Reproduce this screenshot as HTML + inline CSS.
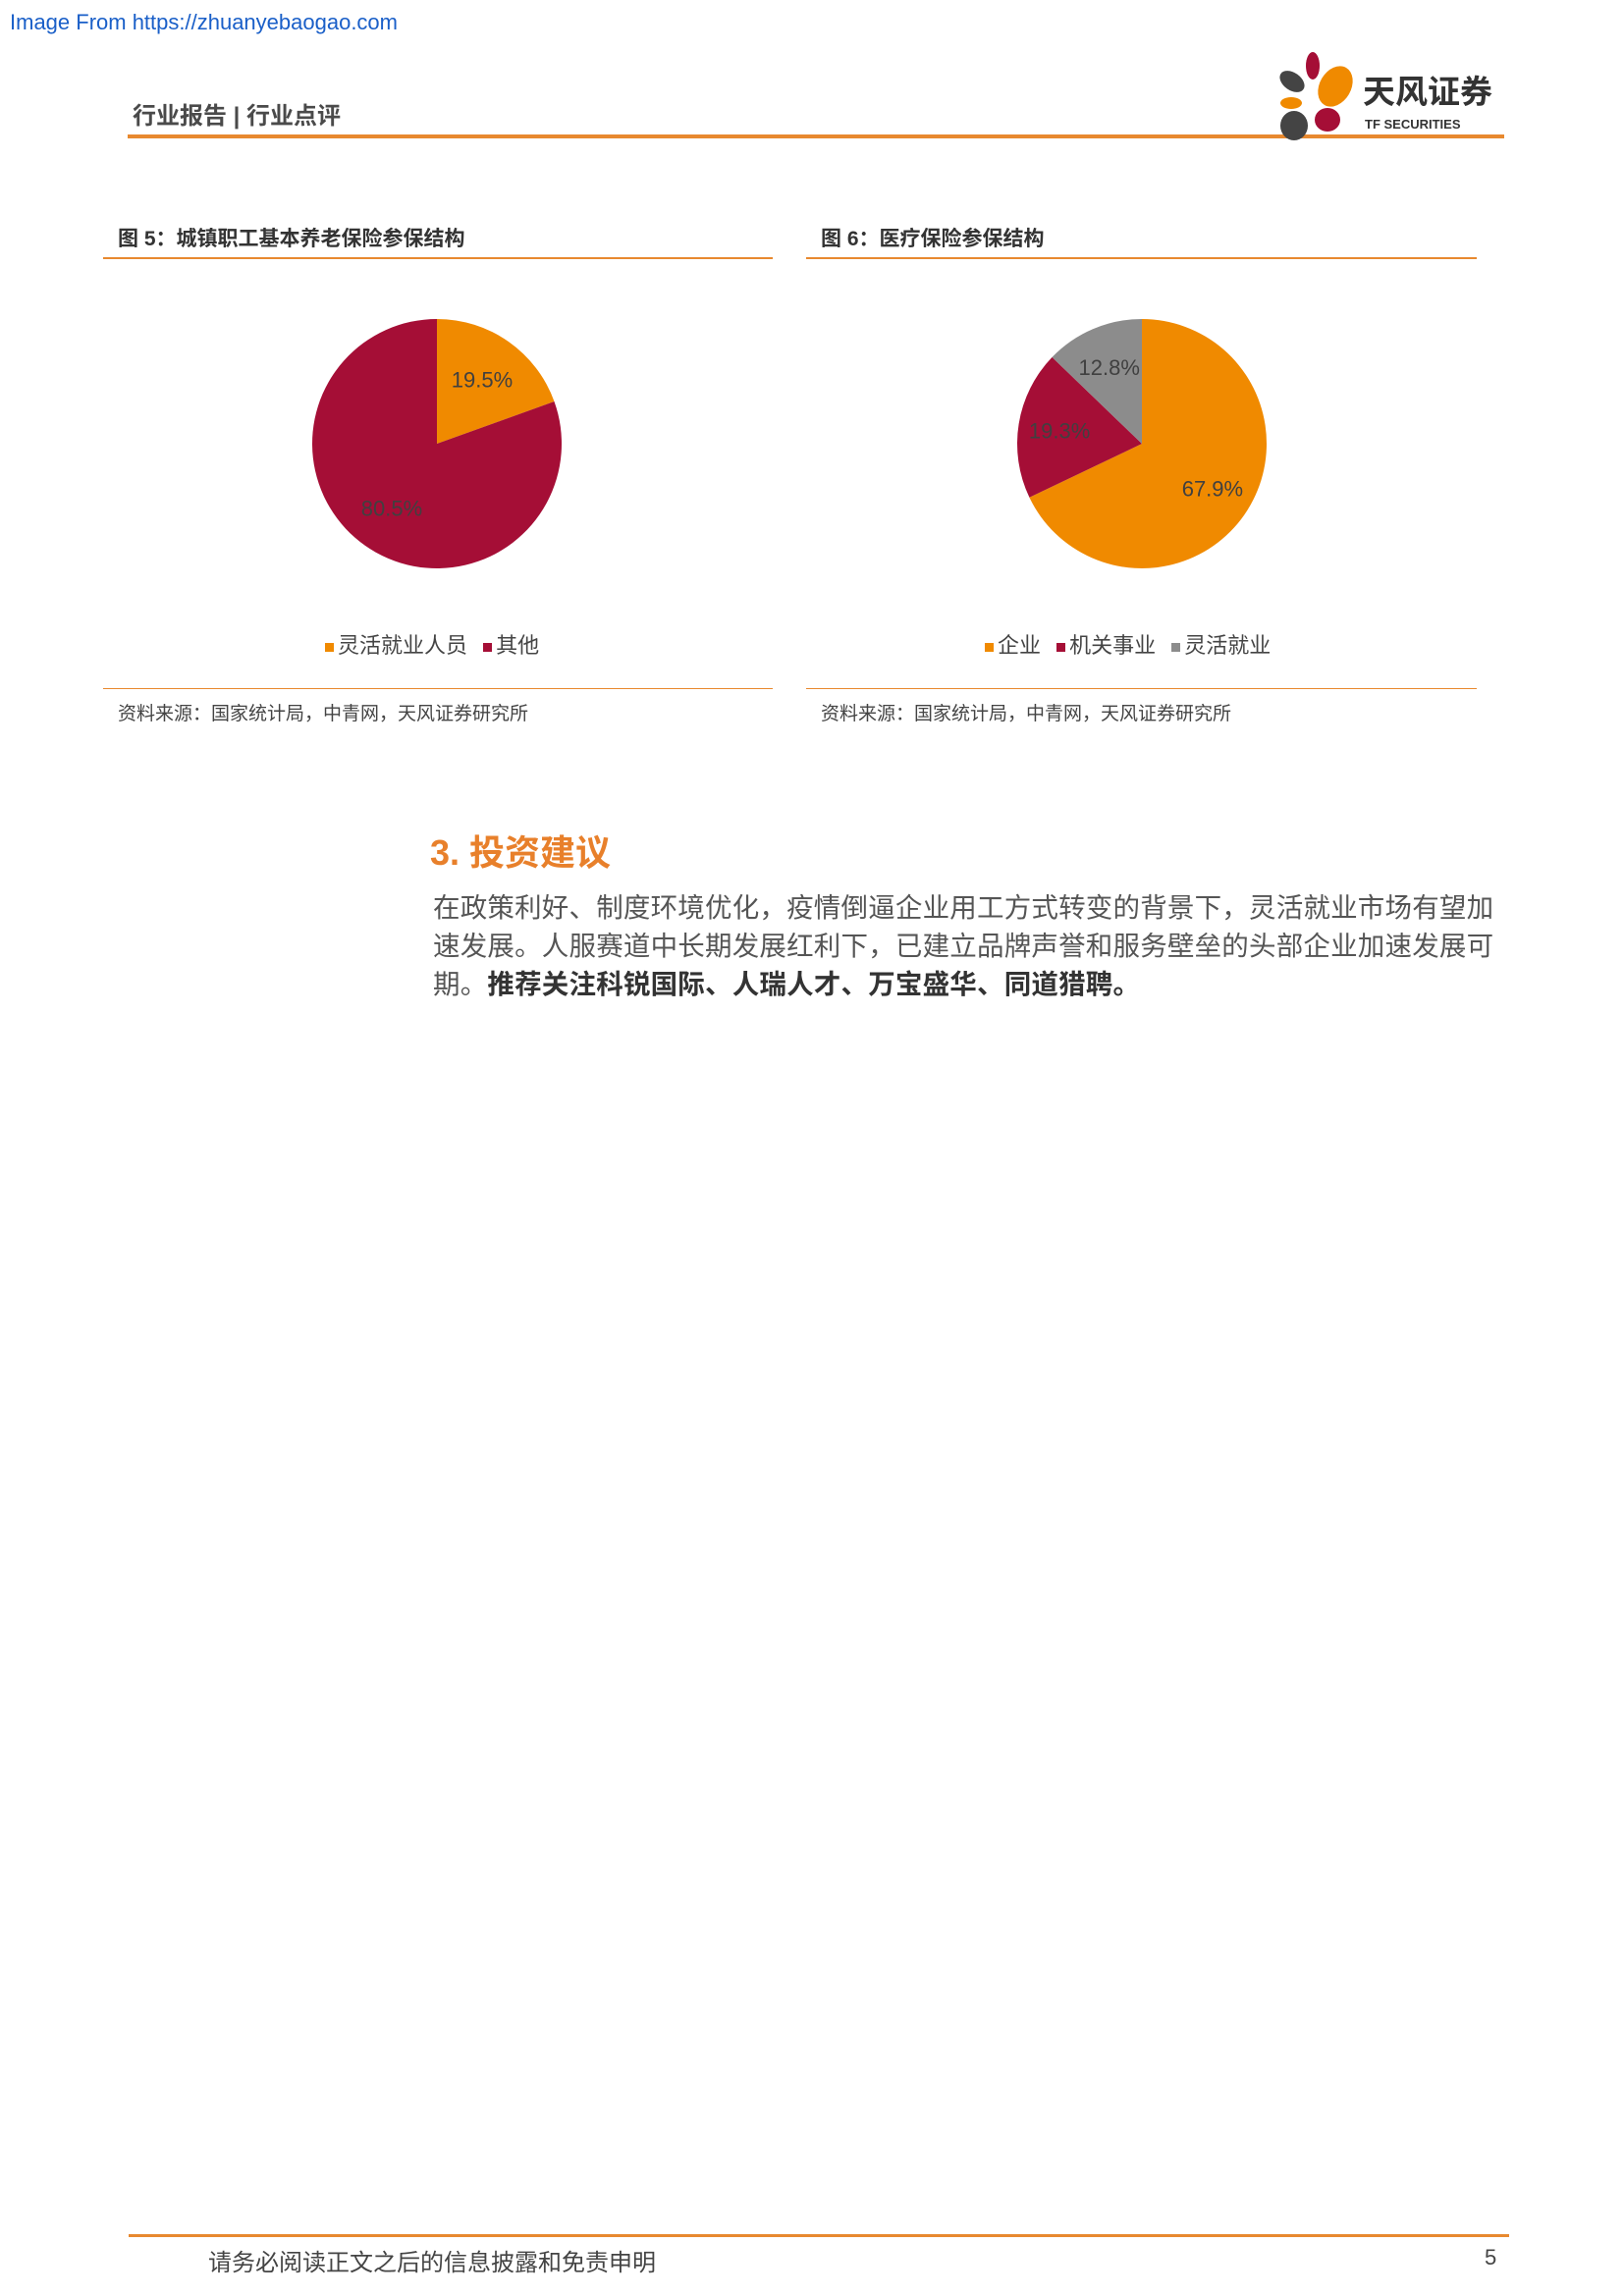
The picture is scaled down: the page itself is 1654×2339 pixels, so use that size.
<!DOCTYPE html>
<html><head><meta charset="utf-8">
<style>
body{margin:0;width:1654px;height:2339px;background:#fff;position:relative;overflow:hidden;font-family:"Liberation Sans","Noto Sans CJK SC",sans-serif;}
.a{position:absolute;white-space:nowrap;}
.line{position:absolute;background:#e8892f;}
.para{position:absolute;left:441px;font-size:27.5px;color:#555;line-height:39px;white-space:nowrap;}
</style></head><body>
<div class="a" style="left:10px;top:10px;font-size:22px;color:#1a5fc8;">Image From https://zhuanyebaogao.com</div>
<div class="a" style="left:135px;top:98px;font-size:24px;color:#4a4a4a;font-weight:bold;">行业报告 | 行业点评</div>
<div class="line" style="left:130px;top:137px;width:1402px;height:4px;"></div>
<svg class="a" style="left:1300px;top:50px" width="100" height="100" viewBox="1300 50 100 100">
<ellipse cx="1337" cy="67" rx="7" ry="14" fill="#a50e36"/>
<ellipse cx="1316" cy="83" rx="14" ry="9" transform="rotate(35 1316 83)" fill="#444"/>
<ellipse cx="1360" cy="88" rx="16" ry="22" transform="rotate(30 1360 88)" fill="#f08a00"/>
<ellipse cx="1315" cy="105" rx="11" ry="6" fill="#f08a00"/>
<ellipse cx="1352" cy="122" rx="13" ry="12" fill="#a50e36"/>
<ellipse cx="1318" cy="128" rx="14" ry="15" fill="#444"/>
</svg>
<div class="a" style="left:1388px;top:74px;font-size:33px;line-height:40px;color:#333;font-weight:bold;">天风证券</div>
<div class="a" style="left:1390px;top:119px;font-size:13px;line-height:16px;color:#333;font-weight:bold;">TF SECURITIES</div>

<div class="a" style="left:120px;top:227px;font-size:21px;color:#333;font-weight:bold;">图 5：城镇职工基本养老保险参保结构</div>
<div class="a" style="left:836px;top:227px;font-size:21px;color:#333;font-weight:bold;">图 6：医疗保险参保结构</div>
<div class="line" style="left:105px;top:262px;width:682px;height:2px;"></div>
<div class="line" style="left:821px;top:262px;width:683px;height:2px;"></div>

<svg id="charts" class="a" style="left:0;top:0" width="1654" height="700"></svg>

<div class="a" style="left:331px;top:640px;font-size:22px;color:#444;">
<span><span style="display:inline-block;width:9px;height:9px;background:#f08a00;margin-right:4px;vertical-align:middle"></span>灵活就业人员</span>
<span style="margin-left:10px"><span style="display:inline-block;width:9px;height:9px;background:#a50e36;margin-right:4px;vertical-align:middle"></span>其他</span></div>
<div class="a" style="left:1003px;top:640px;font-size:22px;color:#444;">
<span><span style="display:inline-block;width:9px;height:9px;background:#f08a00;margin-right:4px;vertical-align:middle"></span>企业</span>
<span style="margin-left:10px"><span style="display:inline-block;width:9px;height:9px;background:#a50e36;margin-right:4px;vertical-align:middle"></span>机关事业</span>
<span style="margin-left:10px"><span style="display:inline-block;width:9px;height:9px;background:#8c8c8c;margin-right:4px;vertical-align:middle"></span>灵活就业</span></div>

<div class="line" style="left:105px;top:701px;width:682px;height:1px;"></div>
<div class="line" style="left:821px;top:701px;width:683px;height:1px;"></div>
<div class="a" style="left:120px;top:712px;font-size:19px;color:#444;">资料来源：国家统计局，中青网，天风证券研究所</div>
<div class="a" style="left:836px;top:712px;font-size:19px;color:#444;">资料来源：国家统计局，中青网，天风证券研究所</div>

<div class="a" style="left:438px;top:840px;font-size:36px;color:#e8802b;font-weight:bold;">3. 投资建议</div>
<div class="para" style="top:905px;letter-spacing:0.2px;">在政策利好、制度环境优化，疫情倒逼企业用工方式转变的背景下，灵活就业市场有望加</div>
<div class="para" style="top:944px;letter-spacing:0.2px;">速发展。人服赛道中长期发展红利下，已建立品牌声誉和服务壁垒的头部企业加速发展可</div>
<div class="para" style="top:983px;letter-spacing:0.2px;">期。<b style="color:#333">推荐关注科锐国际、人瑞人才、万宝盛华、同道猎聘。</b></div>

<div class="line" style="left:131px;top:2276px;width:1406px;height:3px;"></div>
<div class="a" style="left:212px;top:2285px;font-size:24px;color:#444;">请务必阅读正文之后的信息披露和免责申明</div>
<div class="a" style="left:1512px;top:2287px;font-size:22px;color:#444;">5</div>

<script>
const pie1Labels=["灵活就业人员","其他"];
const pie1Values=[19.5,80.5];
const pie2Labels=["企业","机关事业","灵活就业"];
const pie2Values=[67.9,19.3,12.8];
const colors1=["#f08a00","#a50e36"];
const colors2=["#f08a00","#a50e36","#8c8c8c"];
const NS="http://www.w3.org/2000/svg";
const svg=document.getElementById('charts');
function drawPie(cx,cy,r,vals,cols,name,labelR){
  const tot=vals.reduce((a,b)=>a+b,0);let a0=0;
  vals.forEach((v,i)=>{
    const a1=a0+v/tot*2*Math.PI;
    const x0=cx+r*Math.sin(a0),y0=cy-r*Math.cos(a0),x1=cx+r*Math.sin(a1),y1=cy-r*Math.cos(a1);
    const p=document.createElementNS(NS,'path');
    p.setAttribute('d',`M${cx},${cy}L${x0},${y0}A${r},${r} 0 ${a1-a0>Math.PI?1:0} 1 ${x1},${y1}Z`);
    p.setAttribute('fill',cols[i]);
    
    
    svg.appendChild(p);
    const m=(a0+a1)/2;
    const t=document.createElementNS(NS,'text');
    t.setAttribute('x',cx+labelR*Math.sin(m));t.setAttribute('y',cy-labelR*Math.cos(m)+8);
    t.setAttribute('text-anchor','middle');t.setAttribute('font-size','22');t.setAttribute('fill','#404040');
    t.setAttribute('font-family','Liberation Sans, sans-serif');
    t.textContent=v.toFixed(1)+'%';
    
    
    svg.appendChild(t);
    a0=a1;
  });
}
drawPie(445,452,127,pie1Values,colors1,'pie1',80);
drawPie(1163,452,127,pie2Values,colors2,'pie2',85);
</script>
</body></html>
